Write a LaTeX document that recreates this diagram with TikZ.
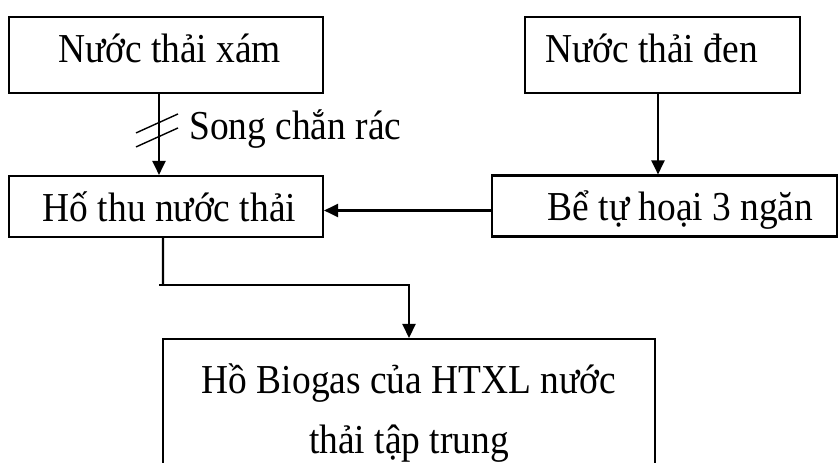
\documentclass[tikz,border=0pt]{standalone}
\usepackage{fontspec}
\setmainfont[FakeStretch=0.91]{Liberation Serif}
\usetikzlibrary{arrows.meta}
\tikzset{
  box/.style={draw, line width=1.2pt, inner sep=0pt, font=\fontsize{23.4}{33.6}\selectfont},
  toprow/.style={box, minimum height=1.52cm, text depth=0pt, text height=0.32cm},
  midrow/.style={box, minimum height=1.22cm, text depth=0pt, text height=0.6cm},
  arr/.style={line width=1.2pt, -{Triangle[length=0.28cm,width=0.26cm]}}
}
\begin{document}
\begin{tikzpicture}
    \useasboundingbox (0,0) rectangle (16.78,9.24);
    \clip (0,0) rectangle (16.78,9.24);

    \node[toprow, minimum width=6.28cm] (xam) at (3.32,8.14) {\hspace*{0.14cm}Nước thải xám};
    \node[toprow, minimum width=5.5cm] (den) at (13.25,8.14) {Nước thải đen\hspace*{0.44cm}};
    \node[midrow, minimum width=6.28cm] (hothu) at (3.32,5.11) {\hspace*{0.14cm}Hố thu nước thải};
    \node[midrow, minimum width=6.9cm] (tuhoai) at (13.29,5.12) {\hspace*{0.64cm}Bể tự hoại 3 ngăn};
    \node[box, anchor=north, minimum width=9.84cm, minimum height=2.96cm, align=center] (biogas) at (8.18,2.48)
        {Hồ Biogas của HTXL nước\\thải tập trung};

    % song chan rac
    \draw[arr] ([xshift=-0.14cm]xam.south) -- ([xshift=-0.14cm]xam.south |- hothu.north) coordinate[pos=0.45] (song);
    \draw[line width=0.8pt] ([shift={(-0.46,-0.05)}]song) -- ([shift={(0.38,0.33)}]song);
    \draw[line width=0.8pt] ([shift={(-0.46,-0.33)}]song) -- ([shift={(0.38,0.05)}]song);
    \node[anchor=base west, inner sep=0pt, font=\fontsize{23.4}{33.6}\selectfont] (songlbl) at (3.78,6.44) {Song chắn rác};

    \draw[arr] ([xshift=-0.09cm]den.south) -- ([xshift=-0.09cm]den.south |- tuhoai.north);
    \draw[arr] ([yshift=-0.09cm]tuhoai.west) -- ([yshift=-0.09cm]tuhoai.west -| hothu.east);

    \coordinate (bend) at (3.26,3.54);
    \draw[line width=1.2pt] ([xshift=-0.06cm]hothu.south) -- (bend);
    \draw[arr] ([xshift=-0.08cm]bend) -| (biogas.north);
\end{tikzpicture}
\end{document}
